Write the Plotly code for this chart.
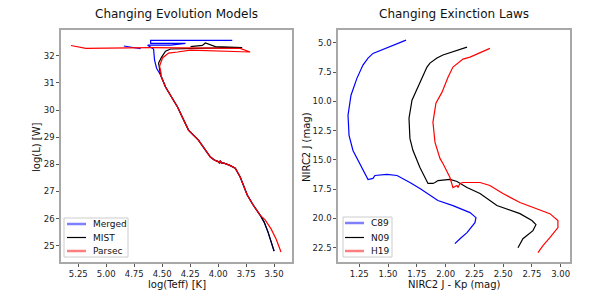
import plotly.graph_objects as go

# ---------------- Data ----------------
# Left panel: log(Teff) vs log(L)
common_teff = [3.625, 3.687, 3.740, 3.803, 3.847, 3.900, 3.954, 3.970, 3.980, 3.989, 4.000, 4.034, 4.069, 4.096, 4.176, 4.265, 4.363, 4.470, 4.515]
common_logl = [26.13, 26.50, 26.87, 27.53, 27.86, 27.97, 28.05, 28.04, 28.13, 28.05, 28.10, 28.16, 28.27, 28.42, 28.89, 29.26, 30.11, 30.85, 31.30]

mist_tail_teff = [3.500, 3.527, 3.554, 3.589]
mist_tail_logl = [24.80, 25.17, 25.50, 25.87]
mist_top_teff = [4.532, 4.505, 4.470, 4.425, 4.100, 3.785, 4.025, 4.114, 4.141, 4.247]
mist_top_logl = [31.73, 31.95, 32.17, 32.25, 32.28, 32.30, 32.34, 32.47, 32.38, 32.34]

merged_top_teff = [4.550, 4.568, 4.577, 4.630, 4.425, 4.292, 4.603, 4.603, 3.874, None, 4.843, 4.692]
merged_top_logl = [31.54, 31.84, 32.25, 32.39, 32.39, 32.46, 32.46, 32.57, 32.57, None, 32.36, 32.26]

parsec_tail_teff = [3.438, 3.482, 3.527, 3.580]
parsec_tail_logl = [24.77, 25.25, 25.62, 25.95]
parsec_top_teff = [4.508, 4.523, 4.497, 4.443, 4.363, 4.247, 3.714, 3.803, 4.603, 5.182, 5.315]
parsec_top_logl = [31.33, 31.62, 31.92, 32.10, 32.14, 32.21, 32.14, 32.27, 32.30, 32.27, 32.38]

# Right panel: NIRC2 J - Kp vs NIRC2 J
c89_color = [1.656, 1.430, 1.369, 1.326, 1.300, 1.282, 1.230, 1.178, 1.152, 1.161, 1.195, 1.256, 1.300, 1.326, 1.369, 1.386, 1.490, 1.578, 1.690, 1.777, 1.933, 2.064, 2.212, 2.264, 2.255, 2.186, 2.125, 2.081]
c89_mag = [4.77, 5.63, 5.91, 6.31, 6.65, 6.91, 8.02, 9.48, 11.20, 12.91, 14.20, 15.31, 16.17, 16.68, 16.59, 16.34, 16.25, 16.34, 16.94, 17.45, 18.48, 18.91, 19.51, 19.94, 20.37, 21.22, 21.74, 22.16]

n09_color = [2.186, 1.977, 1.925, 1.864, 1.838, 1.777, 1.708, 1.682, 1.690, 1.716, 1.760, 1.777, 1.847, 1.890, 1.908, 1.934, 2.038, 2.099, 2.186, 2.299, 2.446, 2.646, 2.750, 2.785, 2.759, 2.672, 2.629]
n09_mag = [5.37, 6.05, 6.31, 6.74, 7.08, 8.37, 9.91, 11.45, 13.17, 14.19, 15.31, 15.65, 17.02, 17.02, 16.94, 16.77, 16.68, 16.85, 17.37, 17.88, 18.91, 19.60, 20.19, 20.54, 21.05, 21.74, 22.51]

h19_color = [2.385, 2.212, 2.151, 2.108, 2.064, 2.021, 1.969, 1.916, 1.890, 1.908, 1.951, 1.977, 2.038, 2.064, 2.099, 2.108, 2.125, 2.151, 2.299, 2.385, 2.498, 2.646, 2.794, 2.906, 2.976, 2.976, 2.906, 2.846, 2.803]
h19_mag = [5.48, 6.23, 6.40, 6.74, 7.08, 7.94, 9.22, 10.17, 11.80, 13.51, 14.88, 15.31, 16.51, 17.37, 17.19, 17.37, 17.02, 16.94, 16.94, 17.19, 17.88, 18.65, 19.17, 19.60, 20.19, 20.79, 21.65, 22.33, 22.93]

left_xticks = [3.50, 3.75, 4.00, 4.25, 4.50, 4.75, 5.00, 5.25]
left_yticks = [25, 26, 27, 28, 29, 30, 31, 32]
right_xticks = [1.25, 1.50, 1.75, 2.00, 2.25, 2.50, 2.75, 3.00]
right_yticks = [5.0, 7.5, 10.0, 12.5, 15.0, 17.5, 20.0, 22.5]

left_names = ["Merged", "MIST", "Parsec"]
right_names = ["C89", "N09", "H19"]

BLUE = "#0000ff"
BLACK = "#000000"
RED = "#ff0000"
FONT = "DejaVu Sans"

# ---------------- Build series ----------------
def join(*parts):
    xs, ys = [], []
    for px_, py_ in parts:
        xs += list(px_)
        ys += list(py_)
    return xs, ys

merged_x, merged_y = join((mist_tail_teff, mist_tail_logl), (common_teff, common_logl), (merged_top_teff, merged_top_logl))
mist_x, mist_y = join((mist_tail_teff, mist_tail_logl), (common_teff, common_logl), (mist_top_teff, mist_top_logl))
parsec_x, parsec_y = join((parsec_tail_teff, parsec_tail_logl), (common_teff, common_logl), (parsec_top_teff, parsec_top_logl))

fig = go.Figure()
lw = 1.2
fig.add_trace(go.Scatter(x=merged_x, y=merged_y, mode="lines", line=dict(color=BLUE, width=lw), xaxis="x", yaxis="y", showlegend=False, connectgaps=False))
fig.add_trace(go.Scatter(x=mist_x, y=mist_y, mode="lines", line=dict(color=BLACK, width=lw), xaxis="x", yaxis="y", showlegend=False))
fig.add_trace(go.Scatter(x=parsec_x, y=parsec_y, mode="lines", line=dict(color=RED, width=lw), xaxis="x", yaxis="y", showlegend=False))

fig.add_trace(go.Scatter(x=c89_color, y=c89_mag, mode="lines", line=dict(color=BLUE, width=lw), xaxis="x2", yaxis="y2", showlegend=False))
fig.add_trace(go.Scatter(x=n09_color, y=n09_mag, mode="lines", line=dict(color=BLACK, width=lw), xaxis="x2", yaxis="y2", showlegend=False))
fig.add_trace(go.Scatter(x=h19_color, y=h19_mag, mode="lines", line=dict(color=RED, width=lw), xaxis="x2", yaxis="y2", showlegend=False))

# The page body has a default 8px margin: lay out in window pixels, offset by it.
OFF = 8
W, H = 584, 284
def px(x):
    return (x - OFF) / W
def py(y):
    return 1 - (y - OFF) / H

L0, L1 = 61, 292
R0, R1 = 338, 570
T0, B0 = 30, 262

axis_common = dict(showline=True, mirror=True, linecolor="#a8a8a8", linewidth=1.5,
                   ticks="outside", ticklen=3, tickcolor="#555", tickwidth=1,
                   showgrid=False, zeroline=False, automargin=False,
                   tickfont=dict(family=FONT, size=8.5, color="#222"))

fig.update_layout(
    width=W, height=H,
    margin=dict(l=0, r=0, t=0, b=0, autoexpand=False),
    paper_bgcolor="white", plot_bgcolor="white",
    font=dict(family=FONT),
    xaxis=dict(domain=[px(L0), px(L1)], range=[5.404, 3.34], tickvals=left_xticks,
               ticktext=[f"{v:.2f}" for v in left_xticks], anchor="y", **axis_common),
    yaxis=dict(domain=[py(B0), py(T0)], range=[24.40, 32.95], tickvals=left_yticks,
               ticktext=[str(v) for v in left_yticks], anchor="x", **axis_common),
    xaxis2=dict(domain=[px(R0), px(R1)], range=[1.065, 3.081], tickvals=right_xticks,
                ticktext=[f"{v:.2f}" for v in right_xticks], anchor="y2", **axis_common),
    yaxis2=dict(domain=[py(B0), py(T0)], range=[23.73, 3.91], tickvals=right_yticks,
                ticktext=[f"{v:.1f}" for v in right_yticks], anchor="x2", **axis_common),
)

annotations = []
def ann(text, x, y, size, angle=0, xanchor="center"):
    annotations.append(dict(text=text, x=px(x), y=py(y), xref="paper", yref="paper",
                            showarrow=False, textangle=angle, xanchor=xanchor, yanchor="middle",
                            font=dict(family=FONT, size=size, color="#111")))

ann("Changing Evolution Models", (L0 + L1) / 2, 14, 12)
ann("Changing Exinction Laws", (R0 + R1) / 2, 14, 12)
ann("log(Teff) [K]", (L0 + L1) / 2, 284, 10)
ann("NIRC2 J - Kp (mag)", (R0 + R1) / 2, 284, 10)
ann("log(L) [W]", 36, 147, 10, angle=-90)
ann("NIRC2 J (mag)", 306, 147, 10, angle=-90)

shapes = []
def legend(x0, x1, y0, y1, names, ys, colors, widths, line_x0, line_x1, text_x):
    shapes.append(dict(type="rect", xref="paper", yref="paper", x0=px(x0), x1=px(x1), y0=py(y1), y1=py(y0),
                       line=dict(color="#cccccc", width=1), fillcolor="rgba(255,255,255,0.8)"))
    for name, yy, c, w in zip(names, ys, colors, widths):
        shapes.append(dict(type="line", xref="paper", yref="paper", x0=px(line_x0), x1=px(line_x1),
                           y0=py(yy), y1=py(yy), line=dict(color=c, width=w)))
        ann(name, text_x, yy, 9, xanchor="left")

legend(64, 128, 218, 257, left_names, [224, 237.5, 251],
       ["rgba(0,0,255,0.5)", "#000000", "rgba(255,0,0,0.5)"], [2.5, 1.2, 2.5], 67, 86, 91)
legend(343, 392, 217, 257, right_names, [223, 237.5, 251],
       ["rgba(0,0,255,0.5)", "#000000", "rgba(255,0,0,0.5)"], [2.5, 1.2, 2.5], 345, 364, 369)

fig.update_layout(annotations=annotations, shapes=shapes)
fig.write_html("out.html")
